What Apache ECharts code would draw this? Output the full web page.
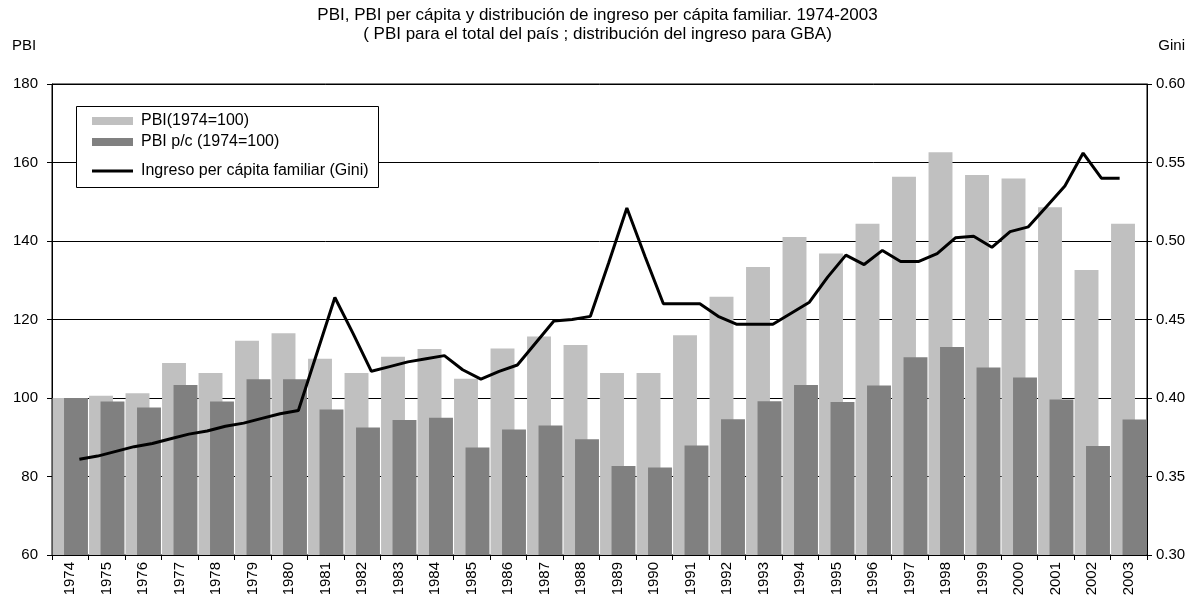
<!DOCTYPE html>
<html>
<head>
<meta charset="utf-8">
<script src="https://cdn.jsdelivr.net/npm/echarts@6/dist/echarts.min.js"></script>
<style>
  html, body { margin: 0; padding: 0; background: #fff; }
  #chart { width: 1195px; height: 599px; }
</style>
</head>
<body>
<div id="chart"></div>
<script>
const years = [
  "1974", "1975", "1976", "1977", "1978", "1979", "1980", "1981", "1982", "1983",
  "1984", "1985", "1986", "1987", "1988", "1989", "1990", "1991", "1992", "1993",
  "1994", "1995", "1996", "1997", "1998", "1999", "2000", "2001", "2002", "2003"
];

// PBI (1974=100)
const pbi = [
  100, 100.6, 101.2, 108.9, 106.4, 114.6, 116.5, 110, 106.4, 110.5,
  112.5, 104.9, 112.6, 115.7, 113.5, 106.4, 106.4, 116, 125.8, 133.4,
  141, 136.8, 144.4, 156.4, 162.6, 156.8, 155.9, 148.6, 132.6, 144.4
];

// PBI p/c (1974=100)
const pbiPc = [
  100, 99.1, 97.6, 103.3, 99.1, 104.8, 104.8, 97.1, 92.5, 94.4,
  95, 87.4, 92, 93, 89.5, 82.7, 82.3, 87.9, 94.6, 99.2,
  103.3, 99, 103.2, 110.4, 113, 107.8, 105.2, 99.6, 87.8, 94.5
];

// Gini por onda de la encuesta (mayo / octubre), de mayo 1974 a octubre 2003
const waves = years.flatMap((y) => ["may " + y, "oct " + y]);
const gini = [
  null, 0.361,
  0.363, 0.366, 0.369, 0.371, 0.374, 0.377, 0.379, 0.382, 0.384, 0.387,
  0.390, 0.392, 0.428, 0.464, 0.441, 0.417, 0.420, 0.423, 0.425, 0.427,
  0.418, 0.412, 0.417, 0.421, 0.435, 0.449, 0.450, 0.452, 0.486, 0.521,
  0.490, 0.460, 0.460, 0.460, 0.452, 0.447, 0.447, 0.447, 0.454, 0.461,
  0.477, 0.491, 0.485, 0.494, 0.487, 0.487, 0.492, 0.502, 0.503, 0.496,
  0.506, 0.509, 0.522, 0.535, 0.556, 0.540, 0.540, null
];

const leftTicks = { min: 60, max: 180, interval: 20 };
const rightTicks = { min: 0.3, max: 0.6, interval: 0.05 };

const FONT = "Liberation Sans";
const chart = echarts.init(document.getElementById("chart"));

const plainTitle = (size) => ({ fontFamily: FONT, fontSize: size, fontWeight: "normal", color: "#000" });

chart.setOption({
  animation: false,
  textStyle: { fontFamily: FONT, color: "#000" },
  title: [
    {
      text: "PBI, PBI per cápita y distribución de ingreso per cápita familiar. 1974-2003",
      left: "center",
      top: 7,
      padding: 0,
      textStyle: plainTitle(17)
    },
    {
      text: "( PBI para el total del país ; distribución del ingreso para GBA)",
      left: "center",
      top: 26,
      padding: 0,
      textStyle: plainTitle(17)
    },
    { text: "PBI", left: 12, top: 38, padding: 0, textStyle: plainTitle(15) },
    { text: "Gini", right: 10, top: 38, padding: 0, textStyle: plainTitle(15) }
  ],
  graphic: [
    {
      type: "rect",
      z: 50,
      shape: { x: 76.5, y: 106.5, width: 302, height: 81 },
      style: { fill: "#fff", stroke: "#000", lineWidth: 1 }
    }
  ],
  legend: [
    {
      z: 60,
      orient: "vertical",
      left: 92,
      top: 113,
      padding: 0,
      itemGap: 5,
      itemWidth: 41,
      itemHeight: 8,
      icon: "rect",
      textStyle: { fontFamily: FONT, fontSize: 16, lineHeight: 16, color: "#000", padding: [0, 0, 0, 3] },
      data: ["PBI(1974=100)", "PBI p/c (1974=100)"]
    },
    {
      z: 60,
      orient: "vertical",
      left: 92,
      top: 163,
      padding: 0,
      itemWidth: 41,
      itemHeight: 8,
      textStyle: { fontFamily: FONT, fontSize: 16, lineHeight: 16, color: "#000", padding: [0, 0, 0, 3] },
      data: [{ name: "Ingreso per cápita familiar (Gini)", icon: "path://M0,3L41,3L41,6L0,6Z" }]
    }
  ],
  grid: {
    left: 52,
    right: 48,
    top: 84,
    bottom: 44,
    show: true,
    borderColor: "#000",
    borderWidth: 1,
    backgroundColor: "transparent"
  },
  xAxis: [
    {
      type: "category",
      data: years,
      axisLine: { lineStyle: { color: "#000", width: 1 } },
      axisTick: { show: true, length: 5, lineStyle: { color: "#000" } },
      axisLabel: { rotate: 90, fontFamily: FONT, fontSize: 15, color: "#000", margin: 7, interval: 0 }
    },
    {
      type: "category",
      data: waves,
      show: false
    }
  ],
  yAxis: [
    {
      type: "value",
      min: leftTicks.min,
      max: leftTicks.max,
      interval: leftTicks.interval,
      axisLine: { show: true, lineStyle: { color: "#000", width: 1 } },
      axisTick: { show: true, length: 5, lineStyle: { color: "#000" } },
      axisLabel: { fontFamily: FONT, fontSize: 15, color: "#000", margin: 14 },
      splitLine: { show: true, lineStyle: { color: "#000", width: 1 } }
    },
    {
      type: "value",
      min: rightTicks.min,
      max: rightTicks.max,
      interval: rightTicks.interval,
      position: "right",
      axisLine: { show: true, lineStyle: { color: "#000", width: 1 } },
      axisTick: { show: true, length: 5, lineStyle: { color: "#000" } },
      axisLabel: { fontFamily: FONT, fontSize: 15, color: "#000", margin: 9, formatter: (v) => v.toFixed(2) },
      splitLine: { show: false }
    }
  ],
  series: [
    {
      name: "PBI(1974=100)",
      type: "bar",
      data: pbi,
      barCategoryGap: "3%",
      barGap: "-52%",
      itemStyle: { color: "#c0c0c0" }
    },
    {
      name: "PBI p/c (1974=100)",
      type: "bar",
      data: pbiPc,
      barCategoryGap: "3%",
      barGap: "-52%",
      itemStyle: { color: "#808080" }
    },
    {
      name: "Ingreso per cápita familiar (Gini)",
      type: "line",
      xAxisIndex: 1,
      yAxisIndex: 1,
      data: gini,
      showSymbol: false,
      symbol: "none",
      connectNulls: false,
      z: 5,
      lineStyle: { color: "#000", width: 3 },
      itemStyle: { color: "#000" }
    }
  ]
});
</script>
</body>
</html>
